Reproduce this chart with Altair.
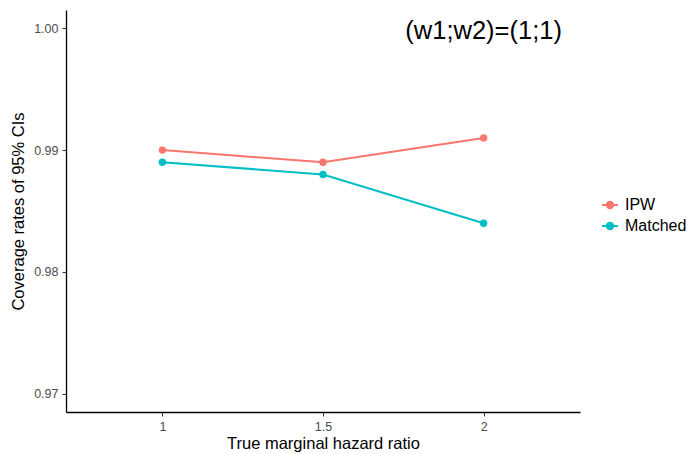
import altair as alt
import pandas as pd

# Coverage rates of 95% CIs by true marginal hazard ratio
hazard_ratio = ["1", "1.5", "2"]
ipw = [0.990, 0.989, 0.991]
matched = [0.989, 0.988, 0.984]
methods = ["IPW", "Matched"]
colors = ["#F8766D", "#00BFC4"]
y_ticks = [0.97, 0.98, 0.99, 1.00]

df = pd.DataFrame(
    {
        "hr": hazard_ratio * 2,
        "coverage": ipw + matched,
        "method": [methods[0]] * 3 + [methods[1]] * 3,
    }
)
note = pd.DataFrame({"hr": ["2"], "coverage": [1.00], "label": ["(w1;w2)=(1;1)"]})

FONT = "Liberation Sans"

x_enc = alt.X(
    "hr:O",
    sort=hazard_ratio,
    scale=alt.Scale(type="point", padding=0.6),
    axis=alt.Axis(
        title="True marginal hazard ratio",
        labelAngle=0,
    ),
)
y_enc = alt.Y(
    "coverage:Q",
    scale=alt.Scale(domain=[0.9685, 1.0015], nice=False, zero=False),
    axis=alt.Axis(
        title="Coverage rates of 95% CIs",
        values=y_ticks,
        format=".2f",
    ),
)
color_enc = alt.Color(
    "method:N",
    scale=alt.Scale(domain=methods, range=colors),
    legend=alt.Legend(
        title=None,
        orient="none",
        legendX=535,
        legendY=186,
        symbolType="M-1,0L1,0M-0.4,0A0.4,0.4,0,1,0,0.4,0A0.4,0.4,0,1,0,-0.4,0Z",
        symbolSize=256,
        symbolStrokeWidth=2,
        labelFontSize=16,
        labelFont=FONT,
        labelColor="black",
        rowPadding=4,
        labelOffset=6,
    ),
)

lines = alt.Chart(df).mark_line(strokeWidth=2).encode(x=x_enc, y=y_enc, color=color_enc)
points = alt.Chart(df).mark_point(filled=True, size=55, opacity=1).encode(
    x=x_enc, y=y_enc, color=color_enc
)
text = alt.Chart(note).mark_text(
    fontSize=25.5, font=FONT, color="black", align="center", baseline="middle", dy=3
).encode(x=alt.X("hr:O", sort=hazard_ratio), y="coverage:Q", text="label:N")

chart = (
    alt.layer(lines, points, text)
    .properties(
        width=514,
        height=402,
        autosize=alt.AutoSizeParams(type="none"),
        padding={"left": 66, "top": 10, "right": 115, "bottom": 42},
        background="white",
    )
    .configure_view(stroke=None)
    .configure_axis(
        grid=False,
        domainColor="black",
        domainWidth=1.3,
        tickColor="#333333",
        tickSize=4,
        tickWidth=1,
        labelFont=FONT,
        labelFontSize=12.5,
        labelColor="#4D4D4D",
        labelPadding=4,
        titleFont=FONT,
        titleFontSize=16.5,
        titleFontWeight="normal",
        titleColor="black",
    )
    .configure_axisY(titlePadding=7)
    .configure_axisX(titlePadding=3)
)

chart.save("out.html", embed_options={"renderer": "svg", "actions": False})
